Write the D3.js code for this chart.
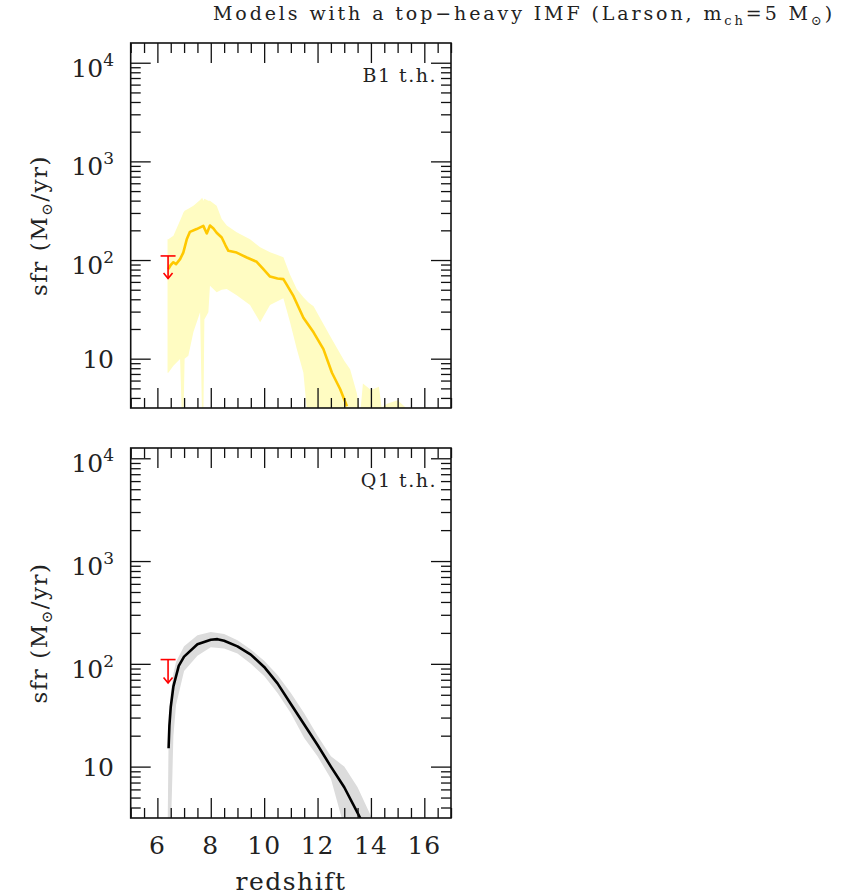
<!DOCTYPE html>
<html><head><meta charset="utf-8">
<script src="https://cdn.jsdelivr.net/npm/d3@7"></script>
<style>body{margin:0;background:#fff}svg{display:block}text{font-family:"DejaVu Serif",serif;fill:#222}</style>
</head><body><svg id="c" width="842" height="895"></svg>
<script>
// ---------- data ----------
const redshiftTicks = [6, 8, 10, 12, 14, 16];
const sfrMajorTicks = [10, 100, 1000, 10000];
const sfrTickBase = ["10", "10", "10", "10"];
const sfrTickExp = ["", "2", "3", "4"];

// B1 t.h. (top panel) mean SFR line
const b1LineZ = [6.41,6.5,6.6,6.7,6.85,6.97,7.1,7.22,7.47,7.72,7.85,7.97,8.1,8.22,8.41,8.55,8.66,8.97,9.35,9.72,9.97,10.22,10.5,10.72,10.85,11.1,11.47,11.85,12.22,12.54,12.85,13.1];
const b1LineSfr = [81,89,95,91,102,119,162,193,206,222,186,224,209,189,169,141,124,119,106,96,81,68,65,64,56,43,26,18.5,12.5,7.2,4.9,3.3];
// B1 t.h. dispersion band
const b1BandZ = [6.38,6.41,6.6,6.85,6.93,6.97,7.02,7.16,7.35,7.6,7.68,7.72,7.76,7.91,7.97,8.22,8.41,8.6,8.97,9.47,9.85,10.22,10.72,10.97,11.22,11.47,11.66,11.85,12.47,13.0,13.22,13.47,13.6,13.7,14.0,14.3,14.4,14.6,15.0,15.3,15.5];
const b1BandHigh = [162,162,176,251,282,302,316,331,355,407,427,398,417,398,398,355,260,224,191,162,135,120,107,71,51,42,37,34,17,9.5,7.8,4.5,2.8,5.6,4.8,5.2,3.2,3.5,3.8,3.2,2];
const b1BandLow = [7.2,7.2,8.5,9.9,2,2,10,10.7,18.6,29.5,2,2,25,29.5,55,47,50,51,44,35,23.4,35,41,23.4,12.6,7.2,2,2,2,2,2,2,2,2,2,2,2,2,2,2,2];

// Q1 t.h. (bottom panel) mean SFR line
const q1LineZ = [6.42,6.45,6.5,6.6,6.8,7.0,7.5,8.0,8.25,8.5,9.0,9.5,10.0,10.5,11.0,11.5,12.0,12.5,13.0,13.5,13.7];
const q1LineSfr = [15.1,25.1,38,60.3,95.5,117.5,155,171.8,173.8,167.9,147.9,123,93.3,64.6,40.7,25.7,16.2,10.0,6.3,3.55,2.8];
// Q1 t.h. dispersion band
const q1BandZ = [6.38,6.42,6.5,6.6,6.7,7.0,7.5,8.0,8.5,9.0,9.5,10.0,10.5,11.0,11.5,12.0,12.5,12.9,13.0,13.5,14.0,14.1];
const q1BandHigh = [2,20,52,80,105,148,190,204,195,170,138,107,78,52,33,20,12.6,10.5,10,6.3,3.3,2.5];
const q1BandLow = [2,2,2,20,40,85,120,145,141,126,100,76,52,33,19,12.6,7.6,3.2,2,2,2,2];

// observational upper limit (red arrow)
const limitZ = 6.4;
const limitSfr = 110;
const limitTip = 65;

// ---------- drawing ----------
const svg = d3.select("#c");
const x = d3.scaleLinear().domain([5, 17]).range([130.7, 451]);

const panels = [
  {label: "B1 t.h.", top: 43, bottom: 408, dom: [Math.pow(10, 0.5), Math.pow(10, 4.2)],
   lz: b1LineZ, lv: b1LineSfr, bz: b1BandZ, hi: b1BandHigh, lo: b1BandLow,
   lineCol: "#ffc800", bandCol: "#fffcc2", lw: 2.6},
  {label: "Q1 t.h.", top: 448, bottom: 818, dom: [Math.pow(10, 0.5), Math.pow(10, 4.1)],
   lz: q1LineZ, lv: q1LineSfr, bz: q1BandZ, hi: q1BandHigh, lo: q1BandLow,
   lineCol: "#000000", bandCol: "#dcdcdc", lw: 2.6}
];

const minorX = d3.range(5, 17.001, 0.5).filter(v => !redshiftTicks.includes(v));
function minorY(dom) {
  const out = [];
  for (let e = 0; e <= 4; e++) for (let m = 2; m <= 9; m++) {
    const v = m * Math.pow(10, e);
    if (v > dom[0] && v < dom[1]) out.push(v);
  }
  return out;
}

panels.forEach((p, i) => {
  const y = d3.scaleLog().domain(p.dom).range([p.bottom, p.top]);
  const g = svg.append("g");
  const cid = "clip" + i;
  svg.append("clipPath").attr("id", cid).append("rect")
    .attr("x", x.range()[0]).attr("y", p.top)
    .attr("width", x.range()[1] - x.range()[0]).attr("height", p.bottom - p.top);
  const data = g.append("g").attr("clip-path", `url(#${cid})`);

  const bandPts = p.bz.map((z, k) => ({z, hi: p.hi[k], lo: p.lo[k]}));
  data.append("path").datum(bandPts)
    .attr("d", d3.area().x(d => x(d.z)).y0(d => y(d.lo)).y1(d => y(d.hi)))
    .attr("fill", p.bandCol).attr("stroke", "none");

  const linePts = p.lz.map((z, k) => ({z, v: p.lv[k]}));
  data.append("path").datum(linePts)
    .attr("d", d3.line().x(d => x(d.z)).y(d => y(d.v)))
    .attr("fill", "none").attr("stroke", p.lineCol).attr("stroke-width", p.lw)
    .attr("stroke-linejoin", "round");

  // upper-limit arrow
  const ax = x(limitZ), ay = y(limitSfr), at = y(limitTip);
  const arr = g.append("g").attr("stroke", "#ff0000").attr("stroke-width", 1.6).attr("fill", "none");
  arr.append("line").attr("x1", ax - 7.5).attr("x2", ax + 7.5).attr("y1", ay).attr("y2", ay);
  arr.append("line").attr("x1", ax).attr("x2", ax).attr("y1", ay).attr("y2", at);
  arr.append("path").attr("d", `M${ax - 4.5},${at - 5.5}L${ax},${at}L${ax + 4.5},${at - 5.5}`);

  // ticks
  const tk = g.append("g").attr("class", "ticks");
  const addAxis = (axis, tx, ty) => {
    const a = tk.append("g").attr("transform", `translate(${tx},${ty})`).call(axis);
    a.select(".domain").remove();
    a.selectAll("line").attr("stroke", "#111").attr("stroke-width", 1.3);
    a.selectAll("text").remove();
  };
  const L = x.range()[0], R = x.range()[1];
  addAxis(d3.axisBottom(x).tickValues(redshiftTicks).tickSize(-20).tickFormat(""), 0, p.bottom);
  addAxis(d3.axisBottom(x).tickValues(minorX).tickSize(-10).tickFormat(""), 0, p.bottom);
  addAxis(d3.axisTop(x).tickValues(redshiftTicks).tickSize(-20).tickFormat(""), 0, p.top);
  addAxis(d3.axisTop(x).tickValues(minorX).tickSize(-10).tickFormat(""), 0, p.top);
  addAxis(d3.axisLeft(y).tickValues(sfrMajorTicks).tickSize(-20).tickFormat(""), L, 0);
  addAxis(d3.axisLeft(y).tickValues(minorY(p.dom)).tickSize(-10).tickFormat(""), L, 0);
  addAxis(d3.axisRight(y).tickValues(sfrMajorTicks).tickSize(-20).tickFormat(""), R, 0);
  addAxis(d3.axisRight(y).tickValues(minorY(p.dom)).tickSize(-10).tickFormat(""), R, 0);

  // frame
  g.append("rect").attr("x", L).attr("y", p.top).attr("width", R - L).attr("height", p.bottom - p.top)
    .attr("fill", "none").attr("stroke", "#111").attr("stroke-width", 1.6);

  // y tick labels
  sfrMajorTicks.forEach((v, k) => {
    const exp = sfrTickExp[k];
    const t = g.append("text").attr("x", 114).attr("y", y(v) + (exp ? 14 : 9.5))
      .attr("text-anchor", "end").attr("font-size", 25);
    t.append("tspan").text(sfrTickBase[k]);
    if (exp) t.append("tspan").attr("dy", -11).attr("font-size", 17).text(exp);
  });

  // panel label
  g.append("text").attr("x", 437).attr("y", p.top + 39).attr("text-anchor", "end")
    .attr("font-size", 19).attr("fill", "#333").attr("letter-spacing", 1.5).text(p.label);

  // y axis title
  const yc = (p.top + p.bottom) / 2;
  const yt = g.append("text").attr("transform", `translate(47,${yc}) rotate(-90)`)
    .attr("text-anchor", "middle").attr("font-size", 23).attr("letter-spacing", 1.5);
  yt.append("tspan").text("sfr  (M");
  yt.append("tspan").attr("dy", 5).attr("font-size", 15).text("⊙");
  yt.append("tspan").attr("dy", -5).text("/yr)");

  // x tick labels on bottom panel only
  if (i === 1) {
    redshiftTicks.forEach(v => {
      g.append("text").attr("x", x(v)).attr("y", 854).attr("text-anchor", "middle")
        .attr("font-size", 25).attr("letter-spacing", 1).text(v);
    });
    g.append("text").attr("x", 291).attr("y", 890).attr("text-anchor", "middle")
      .attr("font-size", 25).attr("letter-spacing", 1.5).text("redshift");
  }
});

// title
const title = svg.append("text").attr("x", 213).attr("y", 20).attr("font-size", 19);
title.append("tspan").text("Models with a top\u2212heavy IMF (Larson, m");
title.append("tspan").attr("dy", 5).attr("font-size", 13).text("ch");
title.append("tspan").attr("dy", -5).text("=5 M");
title.append("tspan").attr("dy", 5).attr("font-size", 13).text("⊙");
title.append("tspan").attr("dy", -5).text(")");
// stretch title spacing to the reference's width
(function fit() {
  const w = title.node().getBBox().width;
  const n = title.text().length;
  title.attr("letter-spacing", Math.max(0, (622 - w) / n));
})();
</script></body></html>
